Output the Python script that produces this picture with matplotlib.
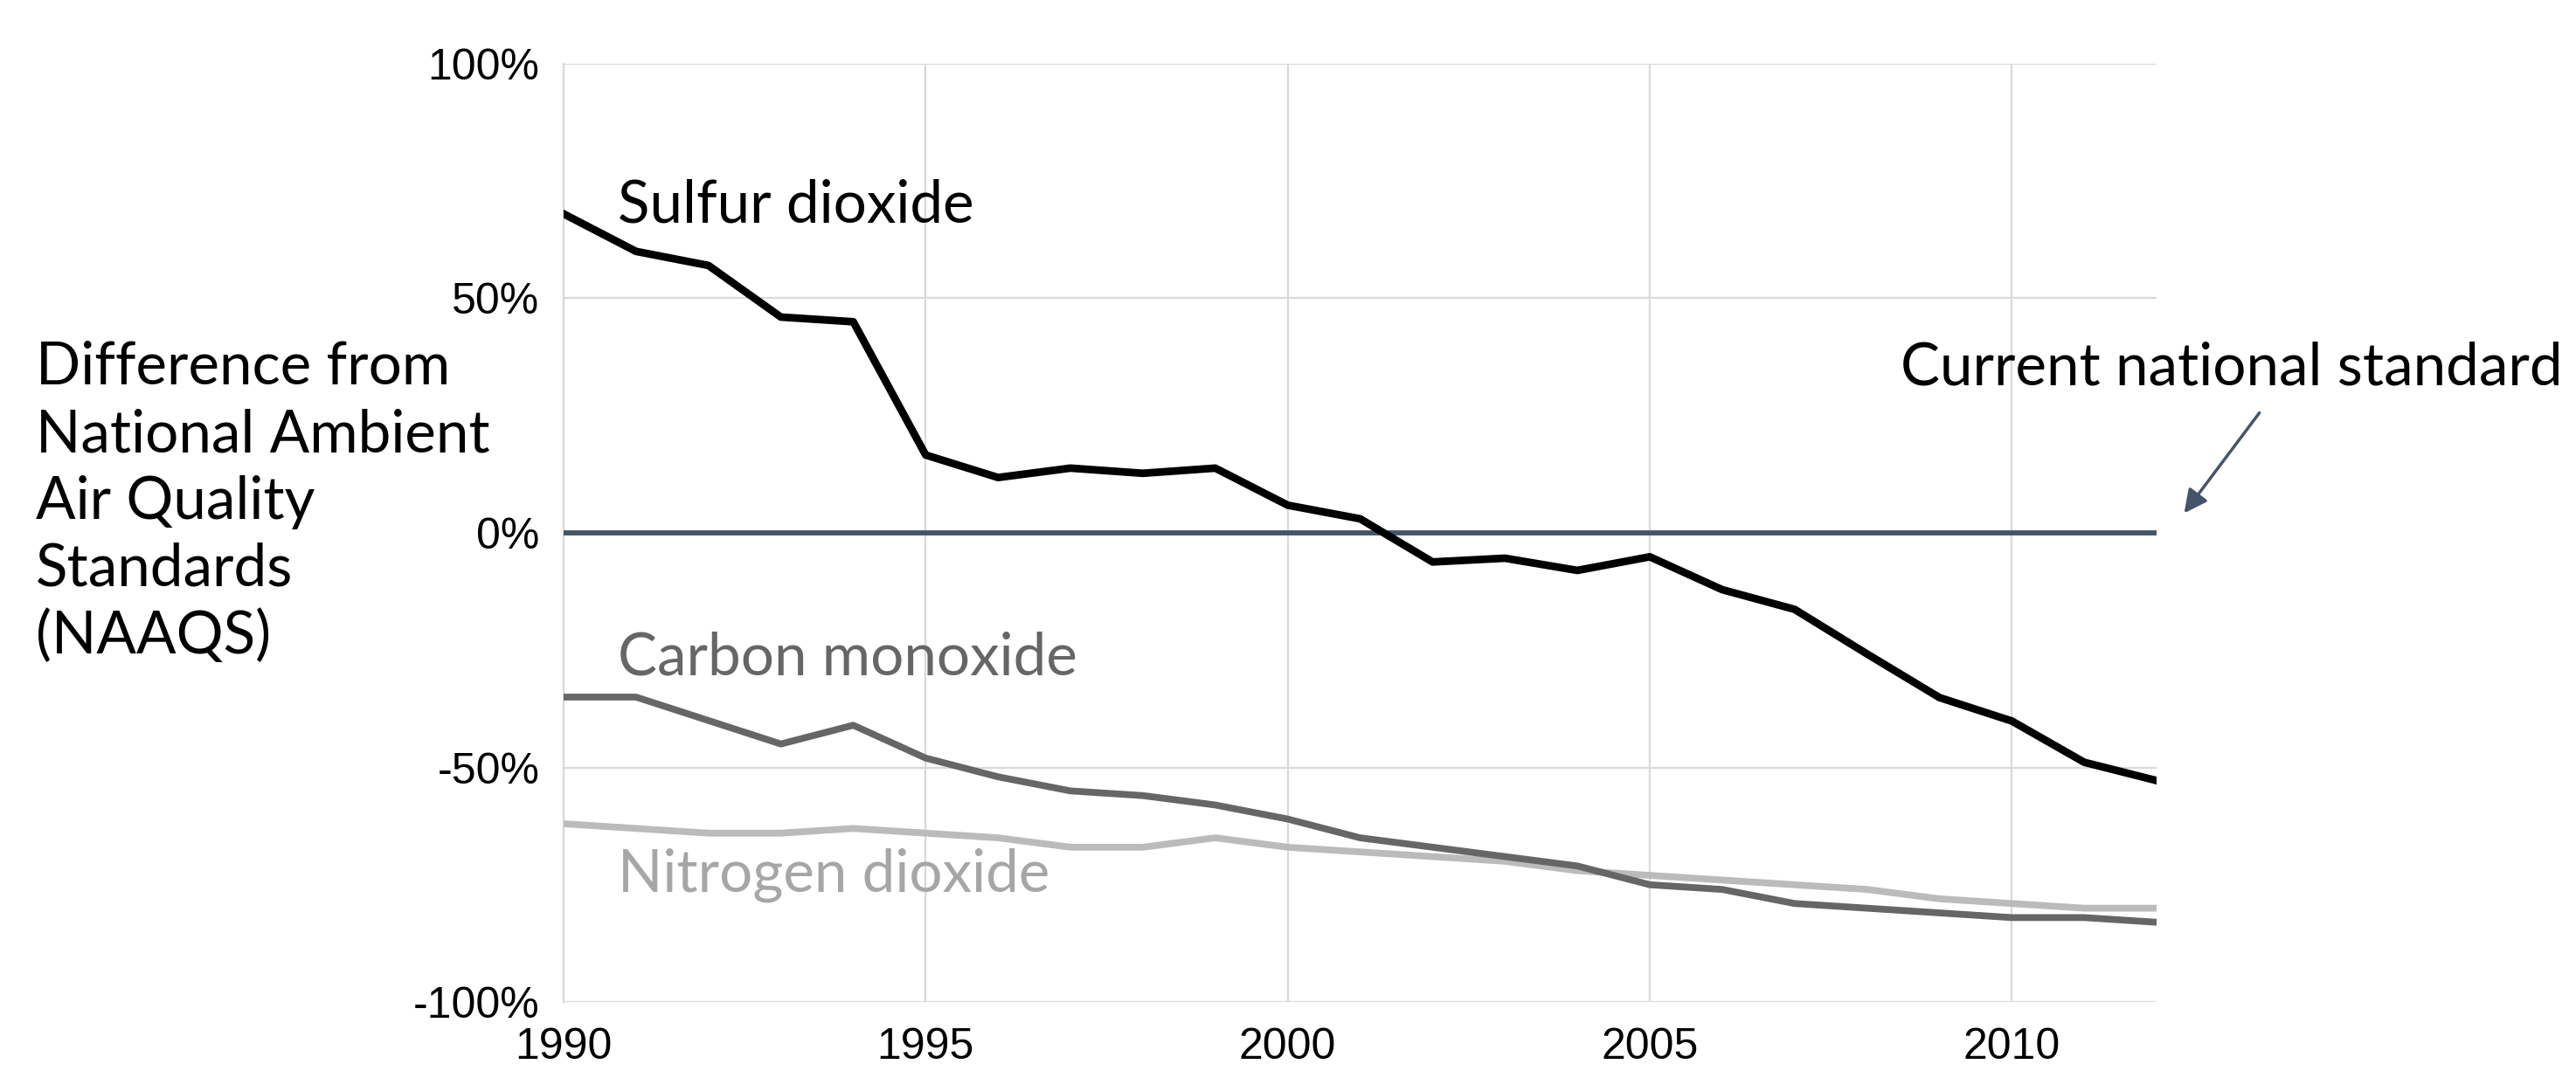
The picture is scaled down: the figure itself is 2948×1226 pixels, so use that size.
import matplotlib
matplotlib.use("Agg")
import matplotlib.pyplot as plt

years = list(range(1990, 2013))
sulfur_dioxide = [68, 60, 57, 46, 45, 16.6, 11.8, 13.8, 12.7, 13.8, 5.9, 3.0,
                  -6.2, -5.4, -8.0, -5.1, -12.1, -16.3, -25.8, -35.1, -40.1, -48.9, -52.8]
carbon_monoxide = [-35, -35, -40, -45, -41, -48, -52, -55, -56, -58, -61, -65,
                   -67, -69, -71, -75, -76, -79, -80, -81, -82, -82, -83]
nitrogen_dioxide = [-62, -63, -64, -64, -63, -64, -65, -67, -67, -65, -67, -68,
                    -69, -70, -72, -73, -74, -75, -76, -78, -79, -80, -80]
standard = [0] * len(years)

x_ticks = [1990, 1995, 2000, 2005, 2010]
y_ticks = [100, 50, 0, -50, -100]
y_tick_labels = ["100%", "50%", "0%", "-50%", "-100%"]
y_title_lines = ["Difference from", "National Ambient", "Air Quality",
                 "Standards", "(NAAQS)"]

label_font = ["Lato", "DejaVu Sans"]
tick_font = ["Liberation Sans", "DejaVu Sans"]

fig = plt.figure(figsize=(29.48, 12.26), dpi=100)
ax = fig.add_axes([0.2188, 0.0644, 0.8372 - 0.2188, 0.9405 - 0.0644])

grid_c = "#D9D9D9"
ax.set_xlim(1990, 2012)
ax.set_ylim(-100, 100)
ax.set_xticks(x_ticks)
ax.set_yticks(y_ticks)
ax.set_yticklabels(y_tick_labels)
ax.grid(True, color=grid_c, lw=1.6)
ax.set_axisbelow(True)
for s in ["top", "right", "bottom"]:
    ax.spines[s].set_visible(False)
ax.spines["left"].set_color(grid_c)
ax.spines["left"].set_linewidth(1.6)
ax.tick_params(length=0, labelsize=36)
ax.tick_params(axis="y", pad=20)
ax.tick_params(axis="x", pad=21)
for lab in ax.get_xticklabels() + ax.get_yticklabels():
    lab.set_family(tick_font)

ax.plot(years, standard, color="#44546A", lw=4.2, solid_capstyle="butt", zorder=3)
ax.plot(years, nitrogen_dioxide, color="#BBBBBB", lw=5.6, zorder=4)
ax.plot(years, carbon_monoxide, color="#666666", lw=5.6, zorder=5)
ax.plot(years, sulfur_dioxide, color="#000000", lw=6.3, zorder=6)

fs = 48.5
ax.text(1990.75, 69.8, "Sulfur dioxide", fontsize=fs, family=label_font,
        color="#000000", va="center", ha="left")
ax.text(1990.75, -26.7, "Carbon monoxide", fontsize=fs, family=label_font,
        color="#666666", va="center", ha="left")
ax.text(1990.75, -73, "Nitrogen dioxide", fontsize=fs, family=label_font,
        color="#A6A6A6", va="center", ha="left")
ax.text(2008.46, 35.1, "Current national standard", fontsize=fs, family=label_font,
        color="#000000", va="center", ha="left", clip_on=False)
ax.annotate("", xy=(2012.38, 4.2), xytext=(2013.42, 25.6),
            arrowprops=dict(arrowstyle="-|>", color="#44546A", lw=2.5,
                            mutation_scale=40, shrinkA=0, shrinkB=0),
            annotation_clip=False)

line_step = 77.0  # pixels between title lines
first_center = 421.0  # pixel row of first title line centre
for i, line in enumerate(y_title_lines):
    fig.text(41 / 2948, 1 - (first_center + i * line_step) / 1226, line,
             fontsize=fs, family=label_font, color="#000000",
             va="center", ha="left")

fig.savefig("out.png", dpi=100, facecolor="white")
